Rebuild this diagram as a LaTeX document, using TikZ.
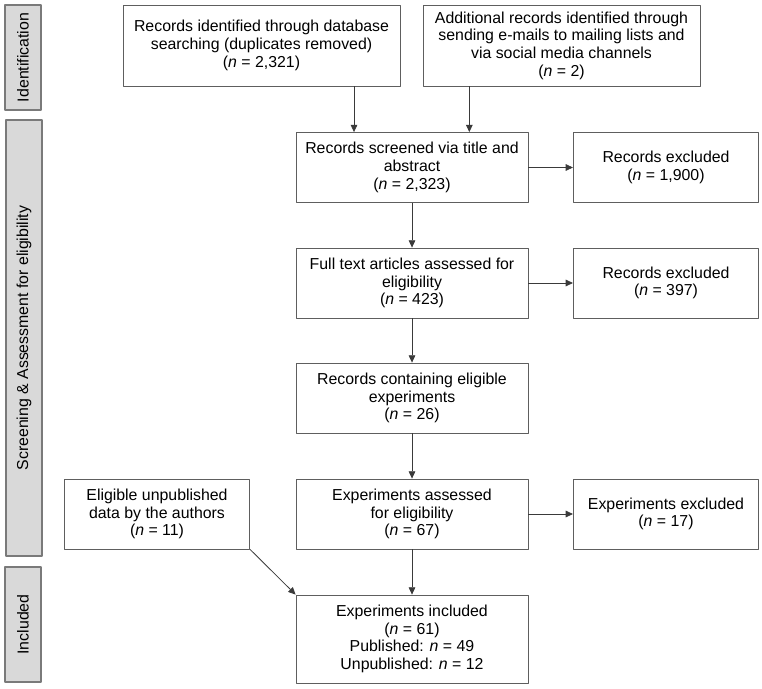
\documentclass[tikz,border=0pt]{standalone}
\usepackage{fontspec}
\setmainfont{Liberation Sans}
\usetikzlibrary{arrows.meta}
\definecolor{framegray}{HTML}{5E5E5E}
\definecolor{linegray}{HTML}{3A3A3A}
\definecolor{sidefill}{HTML}{D9D9D9}
\definecolor{sidedraw}{HTML}{7A7A7A}
\tikzset{
  flowbox/.style={draw=framegray,line width=0.6pt,fill=white,align=center,inner sep=2pt,
    font=\fontsize{11.9}{13.3}\selectfont},
  mainbox/.style={flowbox,minimum width=174pt,minimum height=52.5pt},
  sidebox/.style={flowbox,minimum width=139pt,minimum height=52.5pt},
  phasebar/.style={draw=sidedraw,line width=1.1pt,fill=sidefill,rotate=90,minimum height=27pt,
    inner sep=1pt,font=\fontsize{11.9}{13.3}\selectfont},
  flowline/.style={draw=linegray,line width=0.6pt,-{Triangle[length=5.5pt,width=5pt]}}
}
\begin{document}
\begin{tikzpicture}[x=0.75pt,y=-0.75pt,line join=round]
			%========================
			\useasboundingbox (0,0) rectangle (762,688);
			% phases
			\node[phasebar,minimum width=78.75pt] (idbar) at (23,57.5) {Identification};
			\node[phasebar,minimum width=327pt] (scrbar) at (24,338) {Screening \& Assessment for eligibility};
			\node[phasebar,minimum width=86pt] (incbar) at (23,624.5) {Included};
			% identification
			\node[flowbox,minimum width=207.75pt,minimum height=60.75pt] (db) at (261.5,45.5)
			  {Records identified through database\\searching (duplicates removed)\\(\textit{n} = 2,321)};
			\node[flowbox,minimum width=207.75pt,minimum height=60.75pt] (add) at (561.5,45.5)
			  {Additional records identified through\\sending e-mails to mailing lists and\\via social media channels\\(\textit{n} = 2)};
			% screening
			\node[mainbox] (scr) at (412,167.5) {Records screened via title and\\abstract\\(\textit{n} = 2,323)};
			\node[sidebox] (exa) at (666,167.5) {Records excluded\\(\textit{n} = 1,900)};
			\node[mainbox] (full) at (412,283) {Full text articles assessed for\\eligibility\\(\textit{n} = 423)};
			\node[sidebox] (exb) at (666,283) {Records excluded\\(\textit{n} = 397)};
			\node[mainbox] (rec) at (412,398) {Records containing eligible\\experiments\\(\textit{n} = 26)};
			\node[mainbox] (ass) at (412,514) {Experiments assessed\\for eligibility\\(\textit{n} = 67)};
			\node[sidebox] (exc) at (666,514) {Experiments excluded\\(\textit{n} = 17)};
			\node[sidebox] (unp) at (157,514) {Eligible unpublished\\data by the authors\\(\textit{n} = 11)};
			% included
			\node[mainbox,minimum height=66pt] (inc) at (412,639)
			  {Experiments included\\(\textit{n} = 61)\\Published: \textit{n} = 49\\Unpublished: \textit{n} = 12};
			%========================
			\draw[flowline] ([xshift=-43.5pt]scr.north |- db.south) -- ([xshift=-43.5pt]scr.north);
			\draw[flowline] ([xshift=43pt]scr.north |- add.south) -- ([xshift=43pt]scr.north);
			\draw[flowline] (scr.east) -- (exa.west);
			\draw[flowline] (scr) -- (full);
			\draw[flowline] (full.east) -- (exb.west);
			\draw[flowline] (full) -- (rec);
			\draw[flowline] (rec) -- (ass);
			\draw[flowline] (ass.east) -- (exc.west);
			\draw[flowline] (ass) -- (inc);
			\draw[flowline] (unp.south east) -- (inc.north west);
			%========================
\end{tikzpicture}
\end{document}
